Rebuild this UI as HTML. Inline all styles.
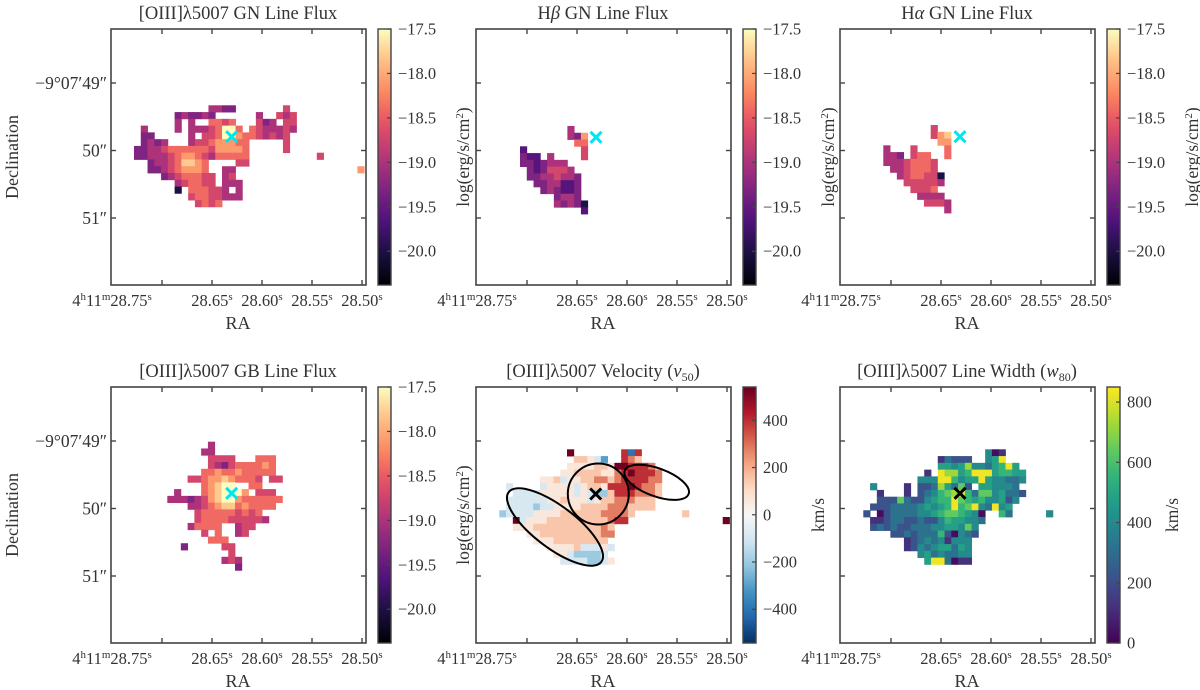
<!DOCTYPE html>
<html><head><meta charset="utf-8">
<style>
html,body{margin:0;padding:0;background:#fff;}
svg{display:block;font-family:"Liberation Serif",serif;}
text{fill:#333;}
</style></head>
<body>
<svg id="fig" width="1200" height="690" viewBox="0 0 1200 690" xmlns="http://www.w3.org/2000/svg"></svg>
<script>
// ---- data ----
const fluxLevels = [-20.3,-20.0,-19.6,-19.3,-19.0,-18.7,-18.4,-18.1,-17.8,-17.5];
const velLevels = [-500,-400,-300,-200,-90,60,150,280,400,530];
const widthLevels = [30,120,220,320,400,480,560,640,720,830];
const raTickLabels = ["28.75","28.65","28.60","28.55","28.50"];
const decTickLabels = ["\u22129\u00b007\u203249\u2033","50\u2033","51\u2033"];
const fluxCbTicks = [-17.5,-18.0,-18.5,-19.0,-19.5,-20.0];
const velCbTicks = [400,200,0,-200,-400];
const widthCbTicks = [800,600,400,200,0];
const p1Rows = [
"...........4433.......5...........",
"......343343......4..545..........",
"......4.4..6656...534.55..........",
".4....4.44456996.6544454..........",
".33.....4.5569976654545...........",
".3434...455677766.....5...........",
"33445666666577776.....5...........",
"33444567765466666..........5......",
"..344568876....55.................",
"..334567776..44..................7",
"....34566655.45...................",
"......456655.444..................",
"......1.666554.4..................",
"........56655444..................",
".........5656....................."];
const p2Rows = [".......4",".......437","........66","2........5","322.4....5","3323444",".3235554",".33445443","..3344223","...343223",".....3443",".....43431",".........2"];
const p3Rows = [".......5",".......578","........77","4...5....6","443.566..6","44456665",".4456665","..4566551","...555554","....5556",".....4444","......5554",".........4"];
const p4Rows = ["......4",".....44","......5555...666","......5435666676",".....66766766666","...55677876665.55",".....67899..66",".4...6789997.555","44434578997666666","...4456788676666","....5666665656","....56666555554","...46666..455",".....5.6..45","......666","..3.....55",".........5","........454","..........3"];
const p5Rows = ["..........9.......818","...........66542..876","..........5555665998887",".........556666557898887","......556455667767888877",".4....455554566588898776","..4444555554543368887776",".4444445565554566777666",".4444344555566667776666","34444555566666677776.......6","..94555666666666788..............9","..555666666666676","....5566666666677",".....55566666666",".......5555644454","........55433334",".........44443345"];
const p6Rows = ["..................401","...........13222..459","...........554584435695",".........1.9885699956655","........4449964559544334",".4....1.22385372.554443","..1...1.2346789637745332","..222732245669765644524",".222333345456967943945","2.0233334456776540..63.....4",".11233223224655443",".2323223334455474","....2232333620432","......1234341444","......1243455354","........45343344",".........5993011"];

// ---- colormaps ----
const magma=[[0,"#000004"],[0.13,"#1c1044"],[0.25,"#4f127b"],[0.38,"#812581"],[0.5,"#b5367a"],[0.63,"#e55064"],[0.75,"#fb8761"],[0.88,"#fec287"],[1,"#fcfdbf"]];
const rdbu=[[0,"#053061"],[0.1,"#2166ac"],[0.2,"#4393c3"],[0.3,"#92c5de"],[0.4,"#d1e5f0"],[0.5,"#f7f7f7"],[0.6,"#fddbc7"],[0.7,"#f4a582"],[0.8,"#d6604d"],[0.9,"#b2182b"],[1,"#67001f"]];
const viridis=[[0,"#440154"],[0.125,"#472d7b"],[0.25,"#3b528b"],[0.375,"#2c728e"],[0.5,"#21918c"],[0.625,"#28ae80"],[0.75,"#5ec962"],[0.875,"#addc30"],[1,"#fde725"]];
function hx(h){return [1,3,5].map(i=>parseInt(h.substr(i,2),16));}
function cmap(stops,t){t=Math.max(0,Math.min(1,t));for(let i=1;i<stops.length;i++){if(t<=stops[i][0]){const a=stops[i-1],b=stops[i];const f=(t-a[0])/(b[0]-a[0]);const ca=hx(a[1]),cb=hx(b[1]);return "rgb("+ca.map((v,k)=>Math.round(v+(cb[k]-v)*f)).join(",")+")";}}return stops[stops.length-1][1];}

const NS="http://www.w3.org/2000/svg";
const svg=document.getElementById('fig');
function mk(tag,attrs,parent){const e=document.createElementNS(NS,tag);for(const k in attrs)e.setAttribute(k,attrs[k]);(parent||svg).appendChild(e);return e;}
const CELL=6.77;

function drawMap(g,rows,ox,oy,levels,stops,vmin,vmax,name){
  rows.forEach((row,r)=>{for(let c=0;c<row.length;c++){const ch=row[c];if(ch==='.')continue;
    const v=levels[+ch];
    const rc=mk('rect',{x:ox+c*CELL,y:oy+r*CELL,width:CELL+0.4,height:CELL+0.4,fill:cmap(stops,(v-vmin)/(vmax-vmin))},g);
    
    
  }});
}

function panel(o){
  const g=mk('g',{});
  
  
  const X=o.x,Y=o.y,W=255,H=256;
  drawMap(g,o.rows,o.ox,o.oy,o.levels,o.stops,o.vmin,o.vmax,o.name);
  if(o.ell){o.ell.forEach(e=>{const el=mk('ellipse',{cx:e[0],cy:e[1],rx:e[2],ry:e[3],transform:`rotate(${e[4]} ${e[0]} ${e[1]})`,fill:'none',stroke:'#000','stroke-width':2},g);
    
    });}
  const mc=o.mcol, mx=o.mx, my=o.my, s=5.5;
  const m=mk('path',{d:`M${mx-s} ${my-s}L${mx+s} ${my+s}M${mx-s} ${my+s}L${mx+s} ${my-s}`,stroke:mc,'stroke-width':3},g);
  
  
  mk('rect',{x:X,y:Y,width:W,height:H,fill:'none',stroke:'#444','stroke-width':1.6},g);
  const xt=[X+51,X+101,X+151,X+201,X+251];
  xt.forEach(t=>{mk('line',{x1:t,x2:t,y1:Y+H,y2:Y+H-5,stroke:'#444','stroke-width':1.4},g);mk('line',{x1:t,x2:t,y1:Y,y2:Y+5,stroke:'#444','stroke-width':1.4},g);});
  const yt=[Y+54,Y+121.5,Y+189];
  yt.forEach(t=>{mk('line',{x1:X,x2:X+5,y1:t,y2:t,stroke:'#444','stroke-width':1.4},g);mk('line',{x1:X+W,x2:X+W-5,y1:t,y2:t,stroke:'#444','stroke-width':1.4},g);});
  const lx=[X+1,X+101,X+151,X+201,X+251];
  raTickLabels.forEach((lab,i)=>{const t=mk('text',{x:lx[i],y:Y+H+21,'font-size':16.5,'text-anchor':'middle'},g);
    
    
    if(i===0){t.innerHTML='4<tspan dy="-6" font-size="11">h</tspan><tspan dy="6">11</tspan><tspan dy="-6" font-size="11">m</tspan><tspan dy="6">'+lab+'</tspan><tspan dy="-6" font-size="11">s</tspan>';}
    else t.innerHTML=lab+'<tspan dy="-6" font-size="11">s</tspan>';});
  const ra=mk('text',{x:X+127,y:Y+H+44,'font-size':18,'text-anchor':'middle'},g);ra.textContent='RA';
  
  
  if(o.dec){decTickLabels.forEach((lab,i)=>{const t=mk('text',{x:X-4,y:yt[i]+6,'font-size':17.5,'text-anchor':'end'},g);t.textContent=lab;
      
      });
    const d=mk('text',{x:0,y:0,'font-size':18,'text-anchor':'middle',transform:`translate(18 ${Y+128}) rotate(-90)`},g);d.textContent='Declination';
    
    }
  const ti=mk('text',{x:X+127,y:Y-10,'font-size':18.5,'text-anchor':'middle'},g);ti.innerHTML=o.title;
  
  
  const cx=X+267,cw=13;
  const gid='gr'+o.name;
  const defs=mk('defs',{},g);const lg=mk('linearGradient',{id:gid,x1:0,y1:1,x2:0,y2:0},defs);
  for(let i=0;i<=20;i++)mk('stop',{offset:i/20,'stop-color':cmap(o.stops,i/20)},lg);
  const cb=mk('rect',{x:cx,y:Y,width:cw,height:H,fill:`url(#${gid})`,stroke:'#444','stroke-width':1.4},g);
  
  
  o.cbTicks.forEach(v=>{const ty=Y+H-(v-o.vmin)/(o.vmax-o.vmin)*H;
    mk('line',{x1:cx+cw,x2:cx+cw-4,y1:ty,y2:ty,stroke:'#444','stroke-width':1.2},g);
    const t=mk('text',{x:cx+cw+7,y:ty+5.5,'font-size':16.5},g);
    t.textContent=(v<0?'\u2212':'')+(o.fmt?Math.abs(v).toFixed(1):Math.abs(v));
    
    });
  const cl=mk('text',{x:0,y:0,'font-size':17.5,'text-anchor':'middle',transform:`translate(${cx+cw+o.cbLabelDx} ${Y+H/2}) rotate(-90)`},g);
  cl.innerHTML=o.cbLabel;
  
  
}
const fluxLab='log(erg/s/cm<tspan dy="-6" font-size="11">2</tspan><tspan dy="6">)</tspan>';
const fv=[-20.38,-17.5];
panel({name:'oiii-gn-flux',x:111,y:29,rows:p1Rows,ox:134,oy:105.3,levels:fluxLevels,stops:magma,vmin:fv[0],vmax:fv[1],mcol:'#00e5ee',mx:231.7,my:136.7,dec:true,title:'[OIII]λ5007 GN Line Flux',cbTicks:fluxCbTicks,fmt:true,cbLabel:fluxLab,cbLabelDx:78});
panel({name:'hbeta-gn-flux',x:476,y:29,rows:p2Rows,ox:520,oy:126,levels:fluxLevels,stops:magma,vmin:fv[0],vmax:fv[1],mcol:'#00e5ee',mx:596,my:137.3,dec:false,title:'H<tspan font-style="italic">β</tspan> GN Line Flux',cbTicks:fluxCbTicks,fmt:true,cbLabel:fluxLab,cbLabelDx:78});
panel({name:'halpha-gn-flux',x:840,y:29,rows:p3Rows,ox:883.3,oy:125,levels:fluxLevels,stops:magma,vmin:fv[0],vmax:fv[1],mcol:'#00e5ee',mx:960,my:136.7,dec:false,title:'H<tspan font-style="italic">α</tspan> GN Line Flux',cbTicks:fluxCbTicks,fmt:true,cbLabel:fluxLab,cbLabelDx:78});
panel({name:'oiii-gb-flux',x:111,y:387,rows:p4Rows,ox:167.3,oy:441.7,levels:fluxLevels,stops:magma,vmin:fv[0],vmax:fv[1],mcol:'#00e5ee',mx:231.7,my:493.3,dec:true,title:'[OIII]λ5007 GB Line Flux',cbTicks:fluxCbTicks,fmt:true,cbLabel:fluxLab,cbLabelDx:78});
panel({name:'oiii-velocity',x:476,y:387,rows:p5Rows,ox:499.3,oy:449.3,levels:velLevels,stops:rdbu,vmin:-543,vmax:541,mcol:'#000',mx:595.7,my:494,dec:false,title:'[OIII]λ5007 Velocity (<tspan font-style="italic">v</tspan><tspan font-size="12" dy="4">50</tspan><tspan dy="-4">)</tspan>',cbTicks:velCbTicks,fmt:false,cbLabel:'km/s',cbLabelDx:68,
  ell:[[555,527,58,21,37],[598.3,494,30.5,30.5,0],[656.7,482.3,34,14,20]]});
panel({name:'oiii-line-width',x:840,y:387,rows:p6Rows,ox:863.3,oy:449.3,levels:widthLevels,stops:viridis,vmin:0,vmax:850,mcol:'#000',mx:960,my:493.3,dec:false,title:'[OIII]λ5007 Line Width (<tspan font-style="italic">w</tspan><tspan font-size="12" dy="4">80</tspan><tspan dy="-4">)</tspan>',cbTicks:widthCbTicks,fmt:false,cbLabel:'km/s',cbLabelDx:58});
</script>
</body></html>
